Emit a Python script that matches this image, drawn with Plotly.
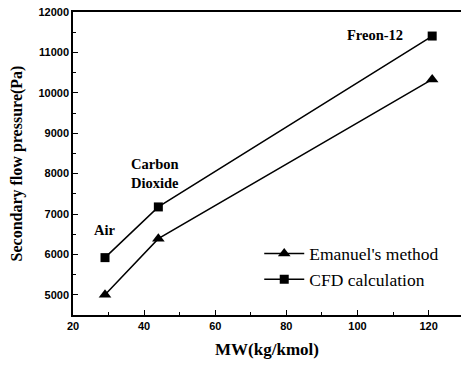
import plotly.graph_objects as go

mw = [29, 44, 121]
emanuel = [5000, 6390, 10330]
cfd = [5920, 7175, 11405]
labels = ["Air", "Carbon<br>Dioxide", "Freon-12"]
label_x = [29, 43, 105]
label_y = [6600, 8000, 11440]
xticks = [20, 40, 60, 80, 100, 120]
yticks = [5000, 6000, 7000, 8000, 9000, 10000, 11000, 12000]

serif = "'Liberation Serif', 'Times New Roman', Times, serif"
sans = "'Liberation Sans', Arial, sans-serif"

fig = go.Figure()
fig.add_trace(go.Scatter(x=mw, y=emanuel, mode="lines+markers", name="Emanuel's method",
                         line=dict(color="black", width=1.5),
                         marker=dict(symbol="triangle-up", size=11, color="black")))
fig.add_trace(go.Scatter(x=mw, y=cfd, mode="lines+markers", name="CFD calculation",
                         line=dict(color="black", width=1.5),
                         marker=dict(symbol="square", size=9, color="black")))

for t, x, y in zip(labels, label_x, label_y):
    fig.add_annotation(x=x, y=y, text="<b>" + t + "</b>", showarrow=False,
                       font=dict(family=serif, size=14.5, color="black"))

fig.update_layout(
    width=461, height=365,
    margin=dict(l=73, r=0, t=12, b=50, autoexpand=False),
    paper_bgcolor="white", plot_bgcolor="white",
    showlegend=True,
    legend=dict(x=0.48, y=0.262, xanchor="left", yanchor="top",
                font=dict(family=serif, size=17.5, color="black"),
                bgcolor="rgba(0,0,0,0)", tracegroupgap=0, itemwidth=40),
    xaxis=dict(range=[20, 129.1], tickvals=xticks, ticktext=[str(v) for v in xticks],
               automargin=False,
               ticks="inside", ticklen=5, tickcolor="black", showgrid=False, zeroline=False,
               showline=True, linecolor="black", linewidth=1.5, mirror=True,
               minor=dict(dtick=10, ticks="inside", ticklen=3, tickcolor="black"),
               tickfont=dict(family=sans, size=11, color="black", weight="bold"),
               title=dict(text="<b>MW(kg/kmol)</b>", font=dict(family=serif, size=17, color="black"),
                          standoff=12)),
    yaxis=dict(range=[4500, 12000], tickvals=yticks, ticktext=[str(v) for v in yticks],
               automargin=False,
               ticks="inside", ticklen=5, tickcolor="black", showgrid=False, zeroline=False,
               showline=True, linecolor="black", linewidth=1.5,
               minor=dict(dtick=500, ticks="inside", ticklen=3, tickcolor="black"),
               tickfont=dict(family=sans, size=11, color="black", weight="bold"),
               title=dict(text="<b>Secondary flow pressure(Pa)</b>", font=dict(family=serif, size=16, color="black"),
                          standoff=12)),
)

fig.write_html("out.html", config={"displayModeBar": False},
               post_script="document.body.style.margin='0';document.body.style.overflow='hidden';")
